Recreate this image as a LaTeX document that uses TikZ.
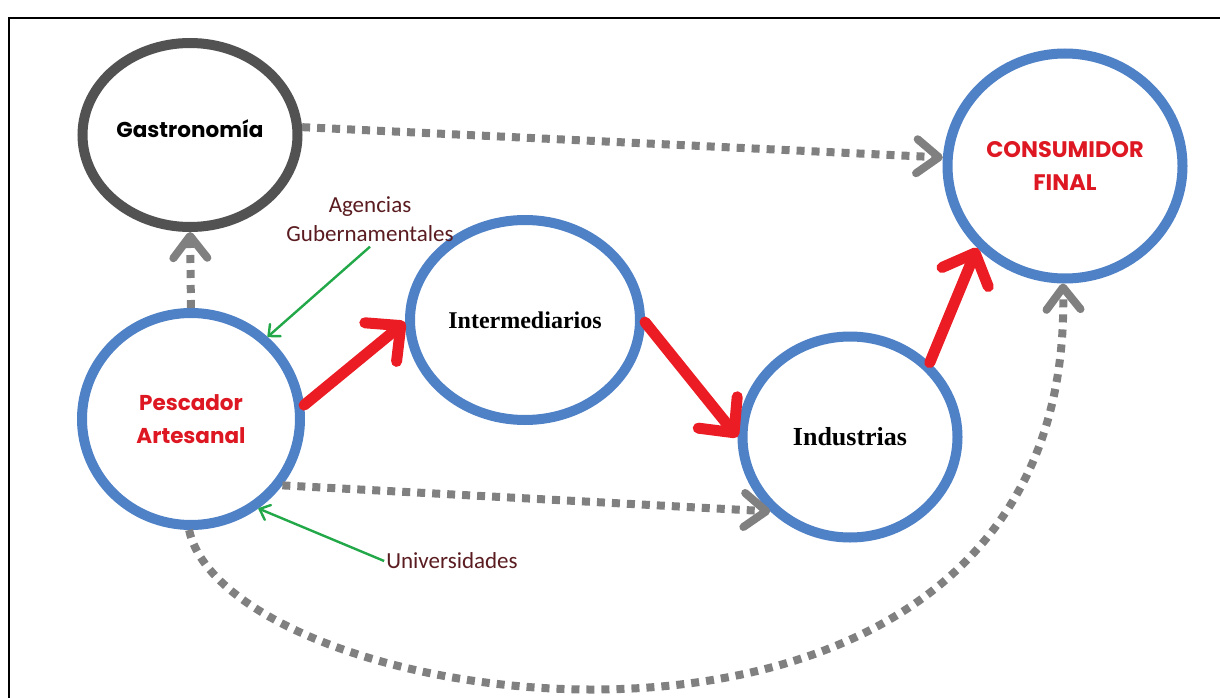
\documentclass[tikz,border=0pt]{standalone}
\usepackage{fontspec}
\setmainfont{Liberation Serif}
\newfontfamily\gothicfont{Poppins}
\newfontfamily\labelfont{Carlito}
\usetikzlibrary{arrows.meta,shapes.geometric}

\definecolor{ringblue}{RGB}{79,129,199}
\definecolor{ringgray}{RGB}{82,82,82}
\definecolor{flowred}{RGB}{236,28,36}
\definecolor{textred}{RGB}{222,24,34}
\definecolor{dotgray}{RGB}{128,128,128}
\definecolor{labelbrown}{RGB}{90,28,32}
\definecolor{arrowgreen}{RGB}{34,168,72}

\tikzset{
  ring/.style={ellipse, draw=ringblue, line width=10pt, inner sep=0pt, align=center},
  grayring/.style={ring, draw=ringgray},
  gothictext/.style={font=\gothicfont\bfseries\fontsize{21.5}{33}\selectfont},
  serieftext/.style={font=\bfseries\fontsize{#1}{30}\selectfont, text=black},
  redflow/.style={draw=flowred, line width=11pt, line cap=round,
    -{Straight Barb[round, length=26pt, width=50pt]}},
  dotflow/.style={draw=dotgray, line width=8pt, dash pattern=on 8pt off 7pt,
    -{Straight Barb[round, length=22pt, width=34pt]}},
  sidelabel/.style={font=\labelfont\fontsize{23}{29}\selectfont, text=labelbrown,
    align=center, inner sep=2pt},
  pointer/.style={draw=arrowgreen, line width=2.4pt,
    -{Straight Barb[round, length=9pt, width=16pt]}}
}

\begin{document}
\begin{tikzpicture}[x=1pt, y=-1pt]
  \useasboundingbox (0,0) rectangle (1220,698);
  \fill[white] (0,0) rectangle (1220,698);

  % frame of the figure
  \draw[line width=2pt, black] (9,698) -- (9,18) -- (1220,18);

  % actors of the chain
  \node[grayring, minimum width=215pt, minimum height=184pt, gothictext, text depth=12pt]
    (gast) at (190,135) {Gastronomía};
  \node[ring, minimum width=218pt, minimum height=212pt, gothictext, text=textred]
    (pesc) at (191,419) {Pescador\\Artesanal};
  \node[ring, minimum width=230pt, minimum height=200pt, serieftext=24]
    (inter) at (525,320) {Intermediarios};
  \node[ring, minimum width=215pt, minimum height=201pt, serieftext=26]
    (ind) at (850,437) {Industrias};
  \node[ring, minimum width=235pt, minimum height=225pt, text=textred,
    font=\gothicfont\bfseries\fontsize{22.5}{33}\selectfont]
    (cons) at (1065,166) {CONSUMIDOR\\FINAL};

  % supporting institutions
  \node[sidelabel] (agen) at (370,219) {Agencias\\Gubernamentales};
  \node[sidelabel] (univ) at (452,561) {Universidades};

  % main commercial flow
  \draw[redflow] (pesc.7) -- (inter.181);
  \draw[redflow] (inter.-1) -- (ind.180);
  \draw[redflow] (ind.43) -- (cons.223);

  % secondary flows
  \draw[dotflow] (gast.4) -- (cons.176);
  \draw[dotflow] (pesc.90) -- (gast.270);
  \draw[dotflow] (pesc.-36) -- (ind.223);
  \draw[dotflow] (pesc.-91) .. controls (230,720) and (1075,840) .. (cons.269);

  % institutional support
  \draw[pointer] ([yshift=-3pt]agen.south) -- (pesc.47);
  \draw[pointer] (univ.west) -- (pesc.-53);
\end{tikzpicture}
\end{document}
